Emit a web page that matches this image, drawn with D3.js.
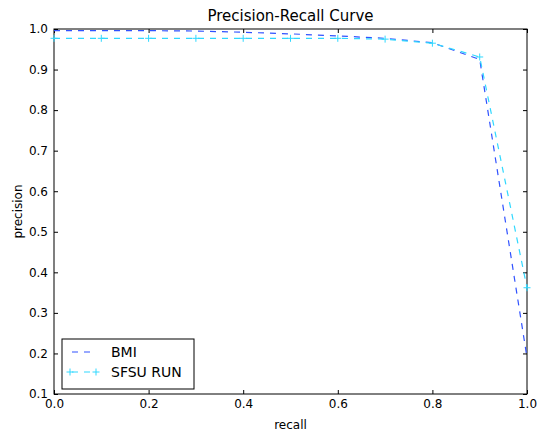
<!DOCTYPE html>
<html>
<head>
<meta charset="utf-8">
<script src="https://cdn.jsdelivr.net/npm/d3@7"></script>
<style>
  body { margin: 0; background: #fff; }
  svg text { font-family: "DejaVu Sans", sans-serif; fill: #000; }
</style>
</head>
<body>
<div id="chart"></div>
<script>
// recall points (11-point interpolated)
var recall = [0.0, 0.1, 0.2, 0.3, 0.4, 0.5, 0.6, 0.7, 0.8, 0.9, 1.0];
var bmi = [0.996, 0.996, 0.996, 0.995, 0.992, 0.988, 0.983, 0.977, 0.966, 0.925, 0.19];
var sfsu = [0.977, 0.977, 0.977, 0.977, 0.977, 0.977, 0.977, 0.975, 0.965, 0.931, 0.362];
var xTicks = [0.0, 0.2, 0.4, 0.6, 0.8, 1.0];
var yTicks = [0.1, 0.2, 0.3, 0.4, 0.5, 0.6, 0.7, 0.8, 0.9, 1.0];
var seriesNames = ["BMI", "SFSU RUN"];

var W = 537, H = 432;
var m = {top: 29, right: 10, bottom: 38, left: 54};
var width = W - m.left - m.right;
var height = H - m.top - m.bottom;

var svg = d3.select("#chart")
            .append("svg")
            .attr("width", W)
            .attr("height", H)
            .append("g")
            .attr("transform", "translate(" + m.left + "," + m.top + ")");

var x = d3.scaleLinear().domain([0, 1]).range([0, width]);
var y = d3.scaleLinear().domain([0.1, 1]).range([height, 0]);

// axes with inward ticks on all sides
function styleAxis(g) {
  g.select(".domain").remove();
  g.selectAll(".tick line").attr("stroke", "#000");
  g.selectAll("text").style("font-size", "12px");
}
svg.append("g")
   .attr("transform", "translate(0," + height + ")")
   .call(d3.axisBottom(x).tickValues(xTicks).tickSizeInner(-4).tickSizeOuter(0)
           .tickPadding(5).tickFormat(d3.format(".1f")))
   .call(styleAxis);
svg.append("g")
   .call(d3.axisTop(x).tickValues(xTicks).tickSizeInner(-4).tickSizeOuter(0).tickFormat(""))
   .call(styleAxis);
svg.append("g")
   .call(d3.axisLeft(y).tickValues(yTicks).tickSizeInner(-4).tickSizeOuter(0)
           .tickPadding(6).tickFormat(d3.format(".1f")))
   .call(styleAxis);
svg.append("g")
   .attr("transform", "translate(" + width + ",0)")
   .call(d3.axisRight(y).tickValues(yTicks).tickSizeInner(-4).tickSizeOuter(0).tickFormat(""))
   .call(styleAxis);

// frame
svg.append("rect")
   .attr("width", width).attr("height", height)
   .attr("fill", "none").attr("stroke", "#000").attr("stroke-width", 1);

var colors = ["#3052ff", "#30d8ff"];
var line = d3.line()
             .x(function(d) { return x(d[0]); })
             .y(function(d) { return y(d[1]); });

[bmi, sfsu].forEach(function(vals, k) {
  var pts = recall.map(function(r, i) { return [r, vals[i]]; });
  svg.append("path")
     .datum(pts)
     .attr("d", line)
     .attr("fill", "none")
     .attr("stroke", colors[k])
     .attr("stroke-width", 1.2)
     .attr("stroke-dasharray", "6,6");
  if (k == 1) {
    svg.selectAll(".plus")
       .data(pts)
       .enter()
       .append("path")
       .attr("d", "M-3.5,0H3.5M0,-3.5V3.5")
       .attr("transform", function(d) { return "translate(" + x(d[0]) + "," + y(d[1]) + ")"; })
       .attr("stroke", colors[k])
       .attr("stroke-width", 1);
  }
});

// title and labels
svg.append("text")
   .attr("x", width / 2).attr("y", -8)
   .attr("text-anchor", "middle")
   .style("font-size", "15px")
   .text("Precision-Recall Curve");
svg.append("text")
   .attr("x", width / 2).attr("y", height + 35)
   .attr("text-anchor", "middle")
   .style("font-size", "12px")
   .text("recall");
svg.append("text")
   .attr("transform", "rotate(-90)")
   .attr("x", -height / 2).attr("y", -32)
   .attr("text-anchor", "middle")
   .style("font-size", "12px")
   .text("precision");

// legend
var lg = svg.append("g").attr("transform", "translate(8," + (height - 55) + ")");
lg.append("rect")
  .attr("width", 132).attr("height", 50)
  .attr("fill", "#fff").attr("stroke", "#000").attr("stroke-width", 1);
seriesNames.forEach(function(name, k) {
  var yy = 13 + k * 20;
  lg.append("line")
    .attr("x1", 8).attr("x2", 34).attr("y1", yy).attr("y2", yy)
    .attr("stroke", colors[k]).attr("stroke-width", 1.2)
    .attr("stroke-dasharray", "6,6").attr("stroke-dashoffset", -2);
  if (k == 1) {
    [8, 34].forEach(function(px) {
      lg.append("path")
        .attr("d", "M-3.5,0H3.5M0,-3.5V3.5")
        .attr("transform", "translate(" + px + "," + yy + ")")
        .attr("stroke", colors[k]);
    });
  }
  lg.append("text")
    .attr("x", 49).attr("y", yy + 5)
    .style("font-size", "14px")
    .text(name);
});
</script>
</body>
</html>
